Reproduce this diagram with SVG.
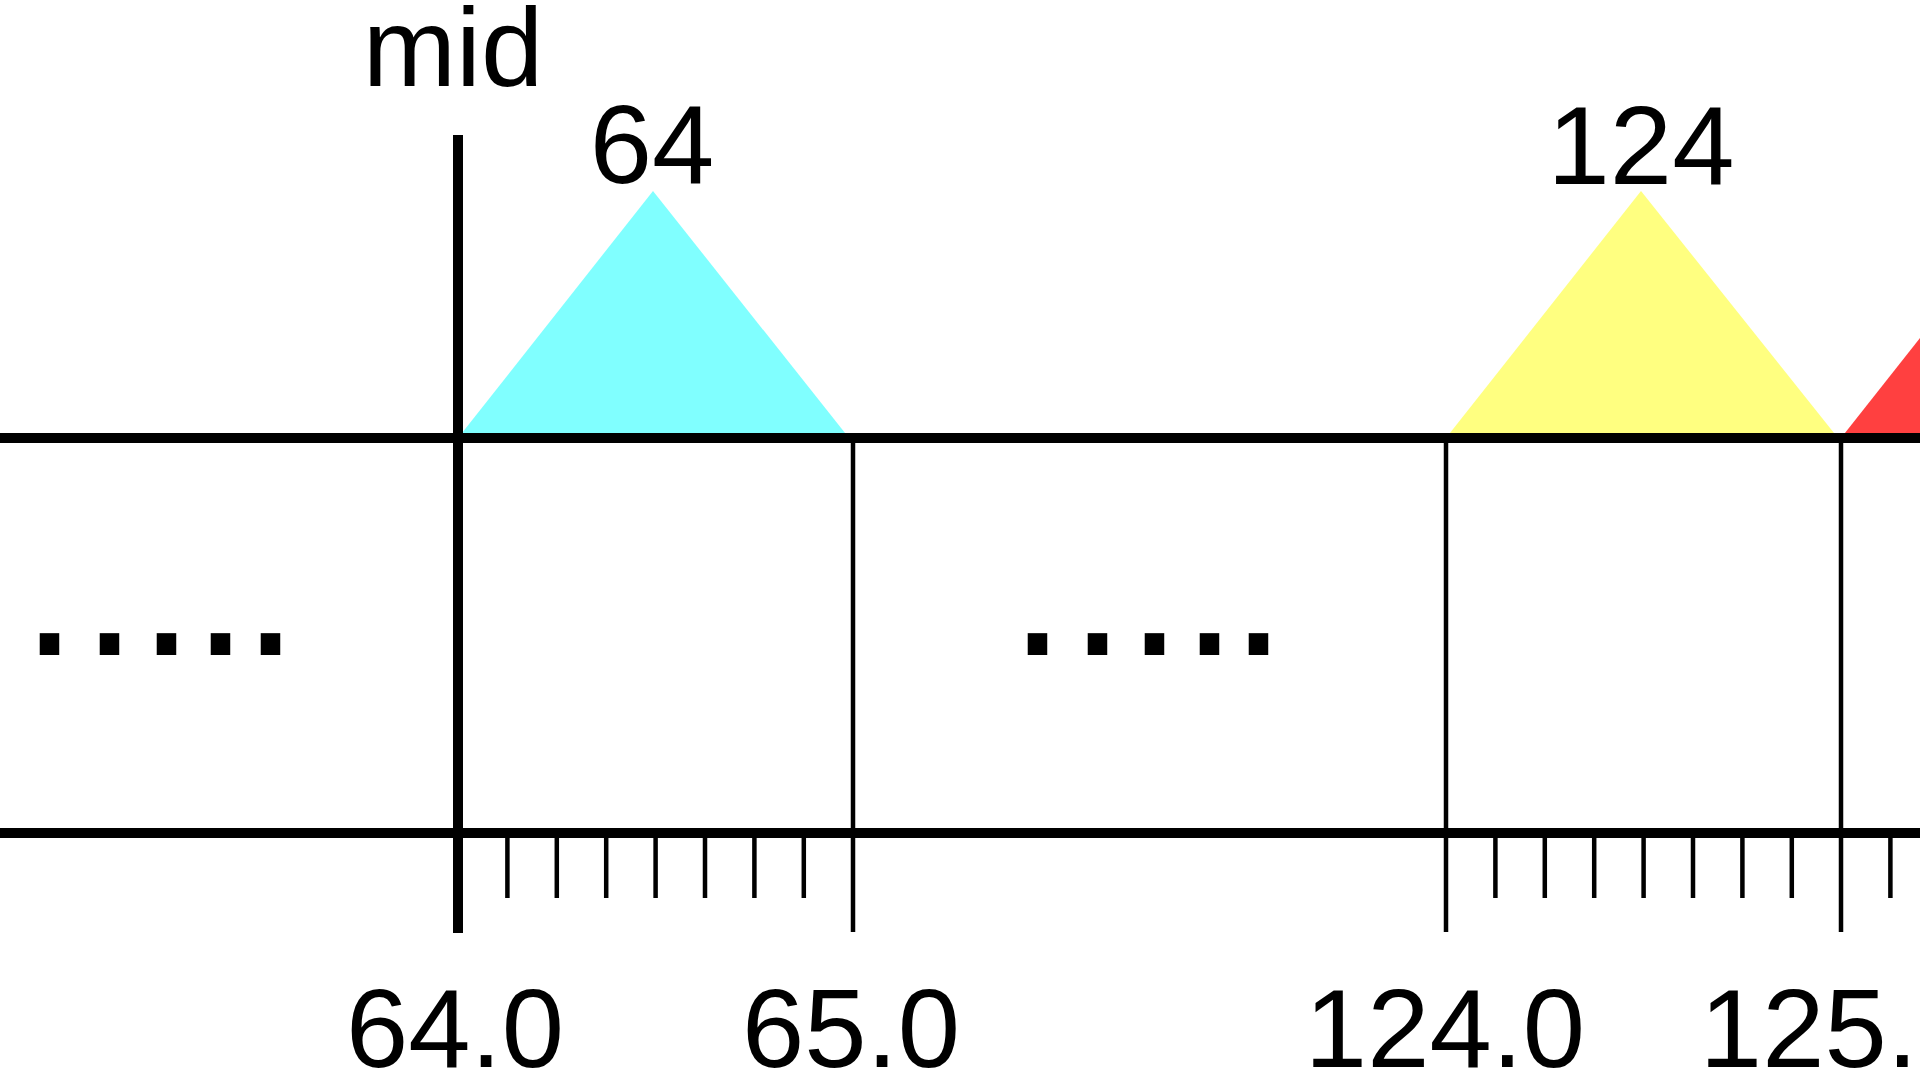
<svg xmlns="http://www.w3.org/2000/svg" width="1920" height="1080" viewBox="0 0 1920 1080">
<style>
.lbl{font-family:"Liberation Sans",Arial,Helvetica,sans-serif;font-size:112px;fill:#000;text-anchor:middle}
.dots{font-family:"Liberation Sans",Arial,Helvetica,sans-serif;font-size:205px;fill:#000}
.thick{stroke:#000;stroke-width:10;fill:none}
.thin{stroke:#000;stroke-width:4.5;fill:none}
</style>
<rect width="1920" height="1080" fill="#fff"/>
<g id="triangles">
<polygon id="tri64" points="458,438 653,191 849,438" fill="#80FFFF"/>
<polygon id="tri124" points="1446,438 1641,191 1838,438" fill="#FFFF80"/>
<polygon id="tri125" points="1841,438 2036,191 2231,438" fill="#FF4040"/>
</g>
<g id="connectors">
<line class="thick" x1="0" y1="438" x2="1920" y2="438"/>
<line class="thick" x1="0" y1="833" x2="1920" y2="833"/>
<line class="thick" x1="458" y1="135" x2="458" y2="933"/>
<line class="thin" x1="853" y1="438" x2="853" y2="932"/>
<line class="thin" x1="1446" y1="438" x2="1446" y2="932"/>
<line class="thin" x1="1841" y1="438" x2="1841" y2="932"/>
<path class="thin" d="M507.4,833V898M556.8,833V898M606.2,833V898M655.6,833V898M705,833V898M754.4,833V898M803.8,833V898"/>
<path class="thin" d="M1495.4,833V898M1544.8,833V898M1594.2,833V898M1643.6,833V898M1693,833V898M1742.4,833V898M1791.8,833V898M1890.4,833V898"/>
</g>
<g id="label-mid"><text class="lbl" x="453" y="86">mid</text></g>
<g id="label-64"><text class="lbl" x="652" y="183">64</text></g>
<g id="label-124"><text class="lbl" x="1641" y="184">124</text></g>
<g id="tick-labels">
<text class="lbl" x="455" y="1067">64.0</text>
<text class="lbl" x="851" y="1067">65.0</text>
<text class="lbl" x="1445" y="1067">124.0</text>
<text class="lbl" x="1840" y="1067">125.0</text>
</g>
<g id="ellipsis-left"><text class="dots" x="21 81 138 192 242" y="655">.....</text></g>
<g id="ellipsis-mid"><text class="dots" x="1009 1069 1126 1181 1230" y="655">.....</text></g>
</svg>
